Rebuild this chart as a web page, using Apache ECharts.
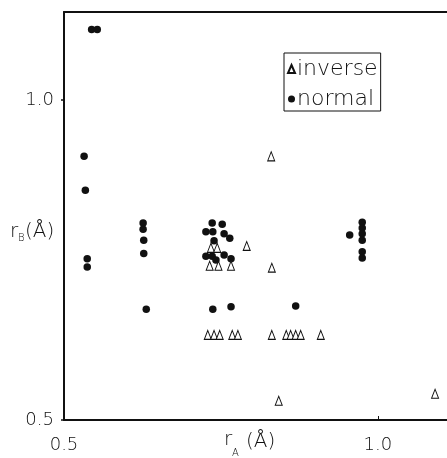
<!DOCTYPE html>
<html><head><meta charset="utf-8">
<script src="https://cdn.jsdelivr.net/npm/echarts@6/dist/echarts.min.js"></script>
<style>html,body{margin:0;padding:0;background:#fff}#c{width:447px;height:458px}</style>
</head><body><div id="c"></div>
<script>
const seriesNames = ['inverse', 'normal'];
const xTickValues = [0.5, 1.0];
const yTickValues = [0.5, 1.0];
const xRange = [0.5, 1.11];
const yRange = [0.5, 1.1375];

const normalPoints = [
  [0.544, 1.110], [0.553, 1.110],
  [0.532, 0.912], [0.534, 0.859], [0.537, 0.752], [0.537, 0.739],
  [0.626, 0.808], [0.626, 0.798], [0.627, 0.781], [0.627, 0.760], [0.631, 0.673],
  [0.736, 0.808], [0.752, 0.806], [0.726, 0.794], [0.737, 0.794], [0.755, 0.791],
  [0.764, 0.784], [0.739, 0.780], [0.726, 0.756], [0.736, 0.756], [0.742, 0.750],
  [0.755, 0.758], [0.766, 0.752],
  [0.737, 0.673], [0.766, 0.677], [0.869, 0.678],
  [0.955, 0.789], [0.975, 0.809], [0.975, 0.800], [0.975, 0.791], [0.975, 0.781],
  [0.975, 0.763], [0.975, 0.753]
];

const inversePoints = [
  [0.734, 0.769], [0.744, 0.769], [0.732, 0.741], [0.746, 0.741], [0.766, 0.741],
  [0.791, 0.772], [0.830, 0.912], [0.831, 0.738],
  [0.729, 0.633], [0.739, 0.633], [0.748, 0.633], [0.768, 0.633], [0.777, 0.633],
  [0.831, 0.633], [0.854, 0.633], [0.861, 0.633], [0.869, 0.633], [0.877, 0.633],
  [0.909, 0.633],
  [0.842, 0.530], [1.091, 0.541]
];

const FONT = 'DejaVu Sans';
const INK = '#111';
const chart = echarts.init(document.getElementById('c'), null, {renderer: 'canvas'});

const txt = (text, x, y, size, extra) => Object.assign({
  type: 'text', x: x, y: y,
  style: {text: text, fontFamily: FONT, fontWeight: 200, fontSize: size, fill: INK, verticalAlign: 'bottom'}
}, extra || {});

chart.setOption({
  animation: false,
  backgroundColor: '#fff',
  grid: {left: 64, top: 12, right: 0, bottom: 38},
  xAxis: [{
    type: 'value', min: xRange[0], max: xRange[1], position: 'bottom',
    axisLine: {show: true, lineStyle: {color: INK, width: 2}},
    axisTick: {show: true, inside: true, length: 4, customValues: xTickValues.slice(1), lineStyle: {color: INK, width: 1}},
    axisLabel: {show: true, customValues: xTickValues, margin: 16, color: INK, fontFamily: FONT, fontWeight: 200, fontSize: 18,
      formatter: v => v.toFixed(1)},
    splitLine: {show: false}
  }, {
    type: 'value', min: xRange[0], max: xRange[1], position: 'top',
    axisLine: {show: true, lineStyle: {color: INK, width: 2}},
    axisTick: {show: false}, axisLabel: {show: false}, splitLine: {show: false}
  }],
  yAxis: {
    type: 'value', min: yRange[0], max: yRange[1],
    axisLine: {show: true, lineStyle: {color: INK, width: 2}},
    axisTick: {show: true, inside: false, length: 3, customValues: yTickValues, lineStyle: {color: INK, width: 1.5}},
    axisLabel: {show: true, customValues: yTickValues, margin: 10, color: INK, fontFamily: FONT, fontWeight: 200, fontSize: 18,
      formatter: v => v.toFixed(1)},
    splitLine: {show: false}
  },
  legend: {
    data: seriesNames,
    orient: 'vertical', left: 284, top: 53,
    padding: [5, 3, 1, 3], itemGap: 8,
    itemWidth: 7, itemHeight: 8,
    borderColor: INK, borderWidth: 1,
    textStyle: {fontFamily: FONT, fontWeight: 200, fontSize: 22, color: INK, padding: [0, 0, 0, -3]}
  },
  series: [{
    name: seriesNames[1], type: 'scatter', data: normalPoints, z: 2,
    symbol: 'circle', symbolSize: 7.5,
    itemStyle: {color: INK, opacity: 1}
  }, {
    name: seriesNames[0], type: 'scatter', data: inversePoints, z: 3,
    symbol: 'triangle', symbolSize: [7, 9],
    itemStyle: {color: '#fff', borderColor: INK, borderWidth: 1, opacity: 1}
  }],
  graphic: [
    txt('r', 10, 242, 20),
    txt('B', 18, 243, 10),
    txt('(Å)', 25, 242, 20),
    txt('r', 224, 450, 20),
    txt('A', 232, 458, 10),
    txt('(Å)', 246, 452, 20)
  ]
});
</script></body></html>
